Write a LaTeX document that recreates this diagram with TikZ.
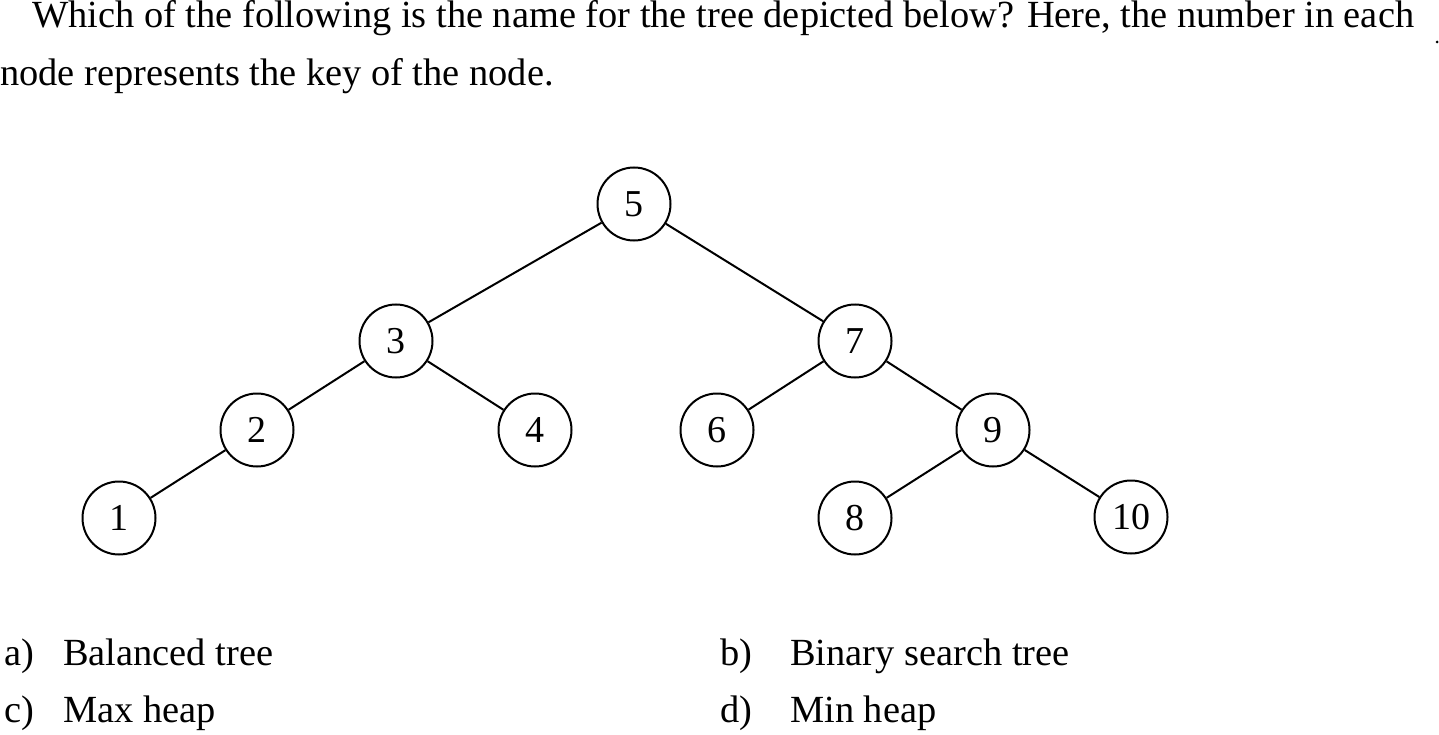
\documentclass[tikz,border=0pt]{standalone}
\usepackage{fontspec}
\setmainfont{Liberation Serif}
\usetikzlibrary{positioning}

\tikzset{
	keynode/.style={draw, circle, line width=2pt, minimum size=73pt, inner sep=0pt, font=\fontsize{38}{40}\selectfont},
	edge/.style={line width=2pt},
	textline/.style={anchor=base west, inner sep=0pt, font=\fontsize{38.4}{44}\selectfont},
	option/.style={anchor=base west, inner sep=0pt, font=\fontsize{38.4}{44}\selectfont}
}

\begin{document}
\begin{tikzpicture}[x=1pt,y=-1pt]
		\useasboundingbox (0,0) rectangle (1439,735);
		%draw question
		\node[textline] (q1) at (32,28) {Which of the following is the name for the tree depicted below? Here, the number in each};
		\node[textline] (q2) at (0,86) {node represents the key of the node.};
		\fill (1437,42) circle (1.5);
		%draw nodes
		\node[keynode] (n5) at (634,204) {5};
		\node[keynode] (n3) at (396,341) {3};
		\node[keynode] (n7) at (855,341) {7};
		\node[keynode] (n2) at (257,430) {2};
		\node[keynode] (n4) at (535,430) {4};
		\node[keynode] (n6) at (717,430) {6};
		\node[keynode] (n9) at (993,430) {9};
		\node[keynode] (n1) at (119,518) {1};
		\node[keynode] (n8) at (855,518) {8};
		\node[keynode] (n10) at (1131,517) {10};
		%draw edges
		\foreach \a/\b in {n5/n3, n5/n7, n3/n2, n3/n4, n2/n1, n7/n6, n7/n9, n9/n8, n9/n10}{
			\draw[edge] (\a) -- (\b);
		}
		%draw options
		\node[option] (la) at (4,665) {a)};
		\node[option] (oa) at (63,665) {Balanced tree};
		\node[option] (lb) at (720,665) {b)};
		\node[option] (ob) at (790,665) {Binary search tree};
		\node[option] (lc) at (4,722) {c)};
		\node[option] (oc) at (63,722) {Max heap};
		\node[option] (ld) at (720,722) {d)};
		\node[option] (od) at (790,722) {Min heap};
\end{tikzpicture}
\end{document}
